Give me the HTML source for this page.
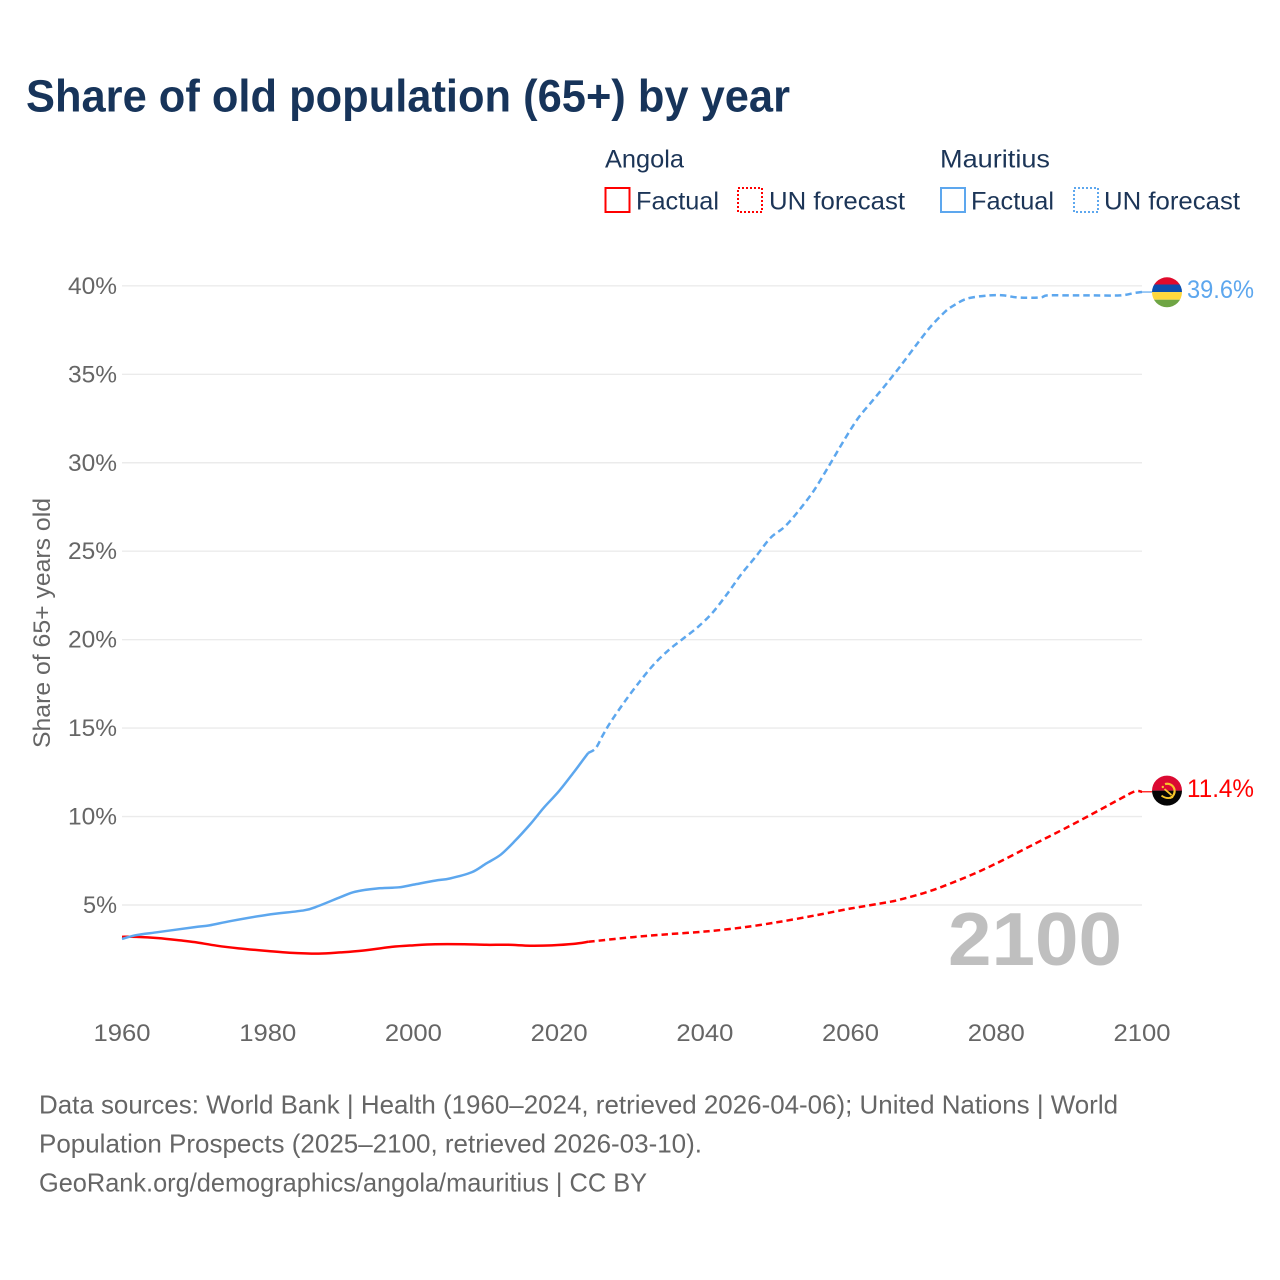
<!DOCTYPE html>
<html lang="en">
<head>
<meta charset="utf-8">
<title>Share of old population (65+) by year</title>
<style>
html,body{margin:0;padding:0;background:#fff;}
svg{display:block;}
text{font-family:"Liberation Sans",sans-serif;}
</style>
</head>
<body>
<svg id="chart" xmlns="http://www.w3.org/2000/svg" width="1280" height="1280" viewBox="0 0 1280 1280">
  <rect width="1280" height="1280" fill="#ffffff"/>
  <text x="26" y="111.5" font-size="45" font-weight="700" fill="#17345a" textLength="764" lengthAdjust="spacingAndGlyphs">Share of old population (65+) by year</text>

  <g font-size="25" fill="#1c3557">
    <text x="605" y="167.5" textLength="79" lengthAdjust="spacingAndGlyphs">Angola</text>
    <rect x="605.5" y="188" width="24" height="24" fill="none" stroke="#ff0000" stroke-width="2"/>
    <text x="636" y="209.5" textLength="83" lengthAdjust="spacingAndGlyphs">Factual</text>
    <rect x="738" y="188" width="24" height="24" fill="none" stroke="#ff0000" stroke-width="2" stroke-dasharray="2 2"/>
    <text x="769" y="209.5" textLength="136" lengthAdjust="spacingAndGlyphs">UN forecast</text>
    <text x="940" y="167.5" textLength="110" lengthAdjust="spacingAndGlyphs">Mauritius</text>
    <rect x="941" y="188" width="24" height="24" fill="none" stroke="#5da7ee" stroke-width="2"/>
    <text x="971" y="209.5" textLength="83" lengthAdjust="spacingAndGlyphs">Factual</text>
    <rect x="1074" y="188" width="24" height="24" fill="none" stroke="#5da7ee" stroke-width="2" stroke-dasharray="2 2"/>
    <text x="1104" y="209.5" textLength="136" lengthAdjust="spacingAndGlyphs">UN forecast</text>
  </g>

  <g id="grid"></g>
  <g id="yticks" font-size="24" fill="#666666"></g>
  <g id="xticks" font-size="24" fill="#666666"></g>
  <text transform="translate(50 623) rotate(-90)" text-anchor="middle" font-size="24" fill="#666666" textLength="250" lengthAdjust="spacingAndGlyphs">Share of 65+ years old</text>

  <text id="year-label" x="948" y="965" font-size="75" font-weight="700" fill="#bfbfbf" textLength="174" lengthAdjust="spacingAndGlyphs">2100</text>

  <g id="series"></g>

  <defs>
    <clipPath id="flag-clip-m"><circle cx="0" cy="0" r="15"/></clipPath>
    <clipPath id="flag-clip-a"><circle cx="0" cy="0" r="15"/></clipPath>
  </defs>
  <g id="flag-mauritius" clip-path="url(#flag-clip-m)">
    <rect x="-16" y="-16" width="32" height="8.2" fill="#e00b2c"/>
    <rect x="-16" y="-7.8" width="32" height="7.6" fill="#0c4fae"/>
    <rect x="-16" y="-0.2" width="32" height="7.6" fill="#ffd83d"/>
    <rect x="-16" y="7.4" width="32" height="8.6" fill="#6fa544"/>
  </g>
  <g id="flag-angola" clip-path="url(#flag-clip-a)">
    <rect x="-16" y="-16" width="32" height="16" fill="#db0a32"/>
    <rect x="-16" y="0" width="32" height="16" fill="#050505"/>
    <path d="M-2 -6.5 A7.2 7.2 0 0 1 2.5 7.5" fill="none" stroke="#f7c52b" stroke-width="2.2"/>
    <path d="M-5.5 5 Q0 9 6 6.5 M-2.5 -1.5 L4.5 4.5" fill="none" stroke="#f7c52b" stroke-width="1.8"/>
    <circle cx="-4.2" cy="-3.6" r="1.2" fill="#f7c52b"/>
  </g>

  <text id="label-mauritius" x="1187" y="298" font-size="25" fill="#5da7ee" textLength="67" lengthAdjust="spacingAndGlyphs"></text>
  <text id="label-angola" x="1187" y="797" font-size="25" fill="#ff0000" textLength="67" lengthAdjust="spacingAndGlyphs"></text>

  <g font-size="26" fill="#666666">
    <text x="39" y="1113.5" textLength="1079" lengthAdjust="spacingAndGlyphs">Data sources: World Bank | Health (1960–2024, retrieved 2026-04-06); United Nations | World</text>
    <text x="39" y="1152.5" textLength="663" lengthAdjust="spacingAndGlyphs">Population Prospects (2025–2100, retrieved 2026-03-10).</text>
    <text x="39" y="1191.5" textLength="608" lengthAdjust="spacingAndGlyphs">GeoRank.org/demographics/angola/mauritius | CC BY</text>
  </g>
</svg>
<script>
const yTickValues = [5, 10, 15, 20, 25, 30, 35, 40];
const xTickValues = [1960, 1980, 2000, 2020, 2040, 2060, 2080, 2100];

const angolaYears = [1960,1962,1965,1968,1970,1973,1976,1980,1983,1987,1990,1993,1997,2000,2003,2007,2010,2013,2016,2019,2022,2024];
const angolaValues = [3.2,3.2,3.13,3.0,2.9,2.7,2.55,2.4,2.3,2.25,2.32,2.42,2.63,2.72,2.78,2.78,2.75,2.75,2.7,2.72,2.8,2.92];
const angolaForecastYears = [2024,2030,2035,2040,2045,2050,2055,2060,2065,2067,2071,2076,2080,2085,2090,2094,2097,2099,2100];
const angolaForecastValues = [2.92,3.18,3.35,3.5,3.72,4.03,4.4,4.8,5.15,5.33,5.8,6.6,7.35,8.4,9.45,10.33,11.0,11.42,11.4];

const mauritiusYears = [1960,1962,1965,1970,1972,1975,1980,1985,1987,1990,1992,1995,1998,2000,2003,2005,2008,2010,2012,2014,2016,2017,2018,2020,2022,2023,2024];
const mauritiusValues = [3.08,3.3,3.47,3.75,3.85,4.1,4.45,4.7,4.95,5.45,5.75,5.93,6.0,6.15,6.38,6.5,6.85,7.35,7.85,8.65,9.55,10.05,10.55,11.45,12.5,13.05,13.6];
const mauritiusForecastYears = [2024,2025,2026,2027,2029,2031,2033,2035,2037,2039,2041,2043,2045,2047,2049,2051,2053,2055,2057,2059,2061,2063,2065,2067,2069,2071,2073,2074,2076,2079,2081,2083,2086,2087,2090,2093,2097,2099,2100];
const mauritiusForecastValues = [13.6,13.85,14.6,15.3,16.5,17.6,18.6,19.4,20.05,20.7,21.5,22.55,23.7,24.7,25.75,26.4,27.35,28.45,29.8,31.2,32.5,33.5,34.5,35.55,36.65,37.7,38.55,38.85,39.28,39.46,39.46,39.34,39.34,39.46,39.46,39.46,39.46,39.6,39.65];

const endValueMauritius = "39.6%";
const endValueAngola = "11.4%";

const NS = "http://www.w3.org/2000/svg";
const xScale = function (year) { return 122 + (year - 1960) * (1020 / 140); };
const yScale = function (value) { return 905 - (value - 5) * 17.69; };

function smoothPath(years, values) {
  const pts = years.map(function (yr, i) { return [xScale(yr), yScale(values[i])]; });
  let d = "M" + pts[0][0].toFixed(2) + " " + pts[0][1].toFixed(2);
  const t = 0.16;
  for (let i = 0; i < pts.length - 1; i++) {
    const p0 = pts[Math.max(0, i - 1)], p1 = pts[i], p2 = pts[i + 1], p3 = pts[Math.min(pts.length - 1, i + 2)];
    const c1x = p1[0] + (p2[0] - p0[0]) * t, c1y = p1[1] + (p2[1] - p0[1]) * t;
    const c2x = p2[0] - (p3[0] - p1[0]) * t, c2y = p2[1] - (p3[1] - p1[1]) * t;
    d += "C" + c1x.toFixed(2) + " " + c1y.toFixed(2) + " " + c2x.toFixed(2) + " " + c2y.toFixed(2) + " " + p2[0].toFixed(2) + " " + p2[1].toFixed(2);
  }
  return d;
}

const gridGroup = document.getElementById("grid");
const yTickGroup = document.getElementById("yticks");
yTickValues.forEach(function (v) {
  const line = document.createElementNS(NS, "line");
  
  
  line.setAttribute("x1", xScale(1960));
  line.setAttribute("x2", xScale(2100));
  line.setAttribute("y1", yScale(v));
  line.setAttribute("y2", yScale(v));
  line.setAttribute("stroke", "#ebebeb");
  line.setAttribute("stroke-width", "1.4");
  gridGroup.appendChild(line);
  const label = document.createElementNS(NS, "text");
  
  
  label.setAttribute("x", 117);
  label.setAttribute("y", yScale(v) + 8);
  label.setAttribute("text-anchor", "end");
  label.textContent = v + "%";
  if (v >= 10) { label.setAttribute("textLength", "49"); } else { label.setAttribute("textLength", "34"); }
  label.setAttribute("lengthAdjust", "spacingAndGlyphs");
  yTickGroup.appendChild(label);
});

const xTickGroup = document.getElementById("xticks");
xTickValues.forEach(function (yr) {
  const label = document.createElementNS(NS, "text");
  
  
  label.setAttribute("x", xScale(yr));
  label.setAttribute("y", 1041);
  label.setAttribute("text-anchor", "middle");
  label.setAttribute("textLength", "57");
  label.setAttribute("lengthAdjust", "spacingAndGlyphs");
  label.textContent = yr;
  xTickGroup.appendChild(label);
});

const seriesGroup = document.getElementById("series");
function addLine(name, years, values, color, dashed) {
  const p = document.createElementNS(NS, "path");
  
  
  p.setAttribute("d", smoothPath(years, values));
  p.setAttribute("fill", "none");
  p.setAttribute("stroke", color);
  p.setAttribute("stroke-width", "2.5");
  if (dashed) { p.setAttribute("stroke-dasharray", "6.5 4"); }
  seriesGroup.appendChild(p);
}
addLine("angola-forecast-line", angolaForecastYears, angolaForecastValues, "#ff0000", true);
addLine("mauritius-forecast-line", mauritiusForecastYears, mauritiusForecastValues, "#5da7ee", true);
addLine("angola-factual-line", angolaYears, angolaValues, "#ff0000", false);
addLine("mauritius-factual-line", mauritiusYears, mauritiusValues, "#5da7ee", false);

function addConnector(name, value, color) {
  const c = document.createElementNS(NS, "line");
  
  
  c.setAttribute("x1", xScale(2100));
  c.setAttribute("x2", xScale(2100) + 10);
  c.setAttribute("y1", yScale(value));
  c.setAttribute("y2", yScale(value));
  c.setAttribute("stroke", color);
  c.setAttribute("stroke-width", "1.2");
  seriesGroup.appendChild(c);
}
const lastAngola = angolaForecastValues[angolaForecastValues.length - 1];
const lastMauritius = mauritiusForecastValues[mauritiusForecastValues.length - 1];
addConnector("angola-flag-connector", lastAngola, "#ff0000");
addConnector("mauritius-flag-connector", lastMauritius, "#5da7ee");

document.getElementById("flag-mauritius").setAttribute("transform", "translate(1167 " + (yScale(lastMauritius) + 0.3).toFixed(1) + ")");
document.getElementById("flag-angola").setAttribute("transform", "translate(1167 " + (yScale(lastAngola) - 1.2).toFixed(1) + ")");
document.getElementById("label-mauritius").textContent = endValueMauritius;
document.getElementById("label-angola").textContent = endValueAngola;
</script>
</body>
</html>
